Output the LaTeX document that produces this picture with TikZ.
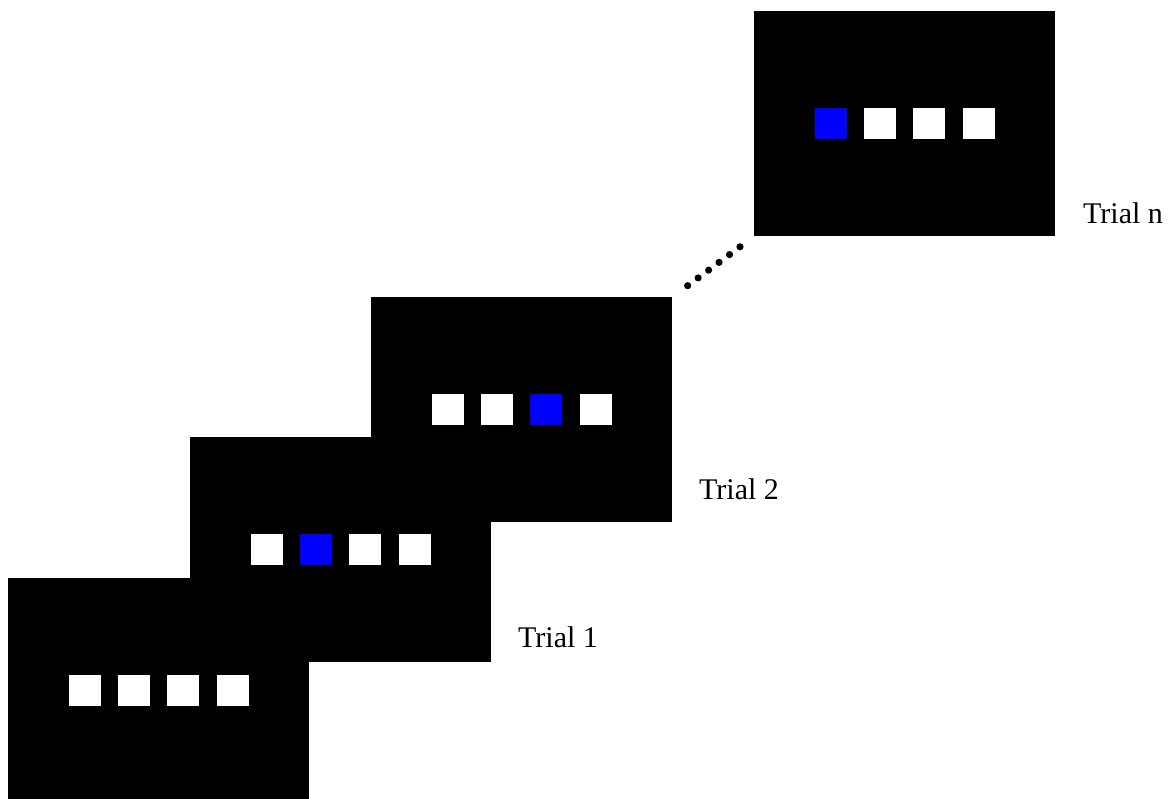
\documentclass[tikz,border=0pt]{standalone}
\usepackage{fontspec}
\setmainfont{Liberation Serif}
\usetikzlibrary{calc}
\tikzset{
  screen/.style={rectangle, fill=black, draw=none, inner sep=0pt,
    minimum width=301pt, minimum height=225pt, anchor=north west},
  cell/.style={rectangle, fill=white, draw=none, inner sep=0pt,
    minimum width=32pt, minimum height=31.5pt},
  target/.style={cell, fill=cueblue},
  triallabel/.style={anchor=base west, inner sep=0pt,
    font=\fontsize{30}{36}\selectfont},
  dot/.style={fill=black}
}
\definecolor{cueblue}{RGB}{0,0,255}
% one stimulus screen: four cells, the cued one drawn in blue
\newcommand{\stimscreen}[3]{%
  \node[screen] (#1) at #2 {};
  \foreach \k/\dx in {1/-73.9,2/-24.6,3/24.6,4/73.9}{
    \ifnum\k=#3
      \node[target] (#1c\k) at ($(#1.center)+(\dx pt,0)$) {};
    \else
      \node[cell] (#1c\k) at ($(#1.center)+(\dx pt,0)$) {};
    \fi
  }%
}
\begin{document}
\begin{tikzpicture}[x=1pt, y=-1pt]
  \useasboundingbox (0,0) rectangle (1169,798);
  \clip (0,0) rectangle (1169,798);
  \stimscreen{s1}{(8,578)}{0}
  \stimscreen{s2}{(190,437)}{2}
  \stimscreen{s3}{(371,297)}{3}
  \stimscreen{sn}{(754,11)}{1}
  % ellipsis between trial 2 and trial n
  \foreach \t in {0,...,5}
    \fill[dot] ($(s3.north east)!{0.187+\t*0.1283}!(sn.south west)$) circle (3.6pt);
  \node[triallabel] (l1) at (518,647) {Trial 1};
  \node[triallabel] (l2) at (699,499) {Trial 2};
  \node[triallabel] (ln) at (1083,223) {Trial n};
\end{tikzpicture}
\end{document}
